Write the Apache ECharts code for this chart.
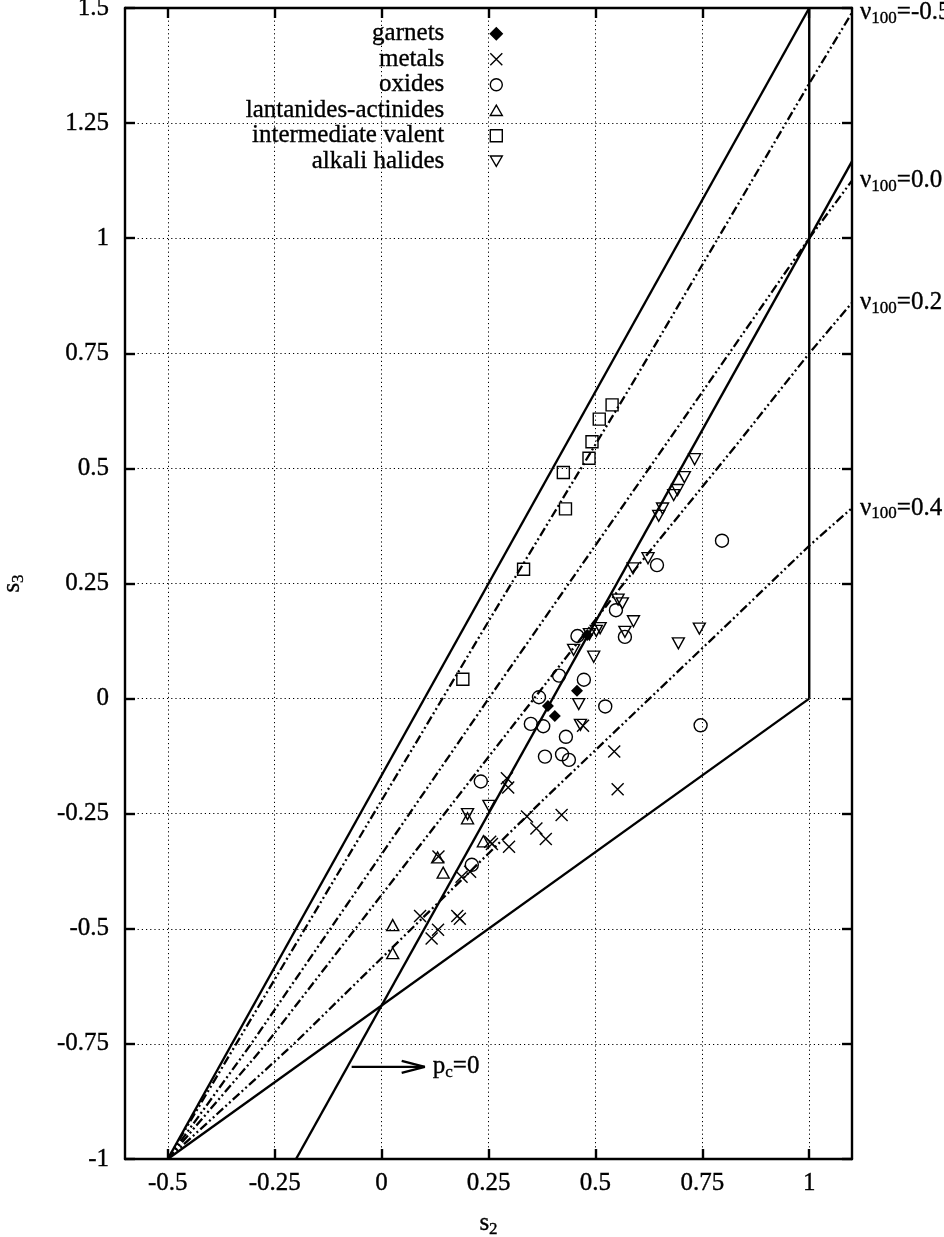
<!DOCTYPE html>
<html>
<head>
<meta charset="utf-8">
<title>s2 - s3</title>
<script src="https://cdn.jsdelivr.net/npm/echarts@6.0.0/dist/echarts.min.js"></script>
<style>
  html, body { margin: 0; padding: 0; background: #fff; }
  #chart { width: 944px; height: 1237px; }
</style>
</head>
<body>
<div id="chart"></div>
<script>
const FONT = 'Liberation Serif';

// axis ticks
const xTicks = [-0.5, -0.25, 0, 0.25, 0.5, 0.75, 1];
const yTicks = [-1, -0.75, -0.5, -0.25, 0, 0.25, 0.5, 0.75, 1, 1.25, 1.5];

// measured points [s2, s3]
const garnets = [[0.389, -0.016], [0.405, -0.038], [0.457, 0.017], [0.481, 0.138]];
const metals = [
  [0.471, -0.059], [0.544, -0.115], [0.552, -0.197], [0.293, -0.173], [0.296, -0.193],
  [0.421, -0.253], [0.340, -0.256], [0.362, -0.282], [0.384, -0.305], [0.298, -0.322],
  [0.254, -0.311], [0.258, -0.316], [0.133, -0.343], [0.207, -0.376], [0.187, -0.387],
  [0.090, -0.472], [0.177, -0.472], [0.183, -0.478], [0.132, -0.502], [0.117, -0.521]
];
const oxides = [
  [0.796, 0.343], [0.644, 0.290], [0.548, 0.192], [0.458, 0.136], [0.569, 0.134],
  [0.415, 0.050], [0.473, 0.041], [0.368, 0.003], [0.523, -0.017], [0.349, -0.055],
  [0.378, -0.060], [0.431, -0.083], [0.746, -0.058], [0.382, -0.126], [0.422, -0.121],
  [0.438, -0.133], [0.232, -0.180], [0.211, -0.361]
];
const lanthanides = [
  [0.201, -0.260], [0.238, -0.310], [0.131, -0.345], [0.144, -0.378], [0.026, -0.492], [0.026, -0.553]
];
const intermediate = [
  [0.539, 0.638], [0.509, 0.607], [0.492, 0.558], [0.485, 0.522],
  [0.425, 0.491], [0.430, 0.412], [0.332, 0.281], [0.190, 0.042]
];
const alkali = [
  [0.732, 0.520], [0.708, 0.481], [0.692, 0.453], [0.683, 0.442], [0.657, 0.413],
  [0.648, 0.397], [0.623, 0.305], [0.588, 0.283], [0.563, 0.207], [0.553, 0.215],
  [0.589, 0.168], [0.694, 0.120], [0.743, 0.152], [0.511, 0.153], [0.502, 0.147],
  [0.486, 0.140], [0.569, 0.145], [0.449, 0.106], [0.496, 0.091], [0.461, -0.012],
  [0.465, -0.057], [0.201, -0.251], [0.251, -0.233]
];

// boundary lines
const upperBound = [[-0.5, -1], [1.0, 1.5]];
const pcZeroLine = [[-0.2, -1], [1.1, 1.167]];
const lowerBound = [[-0.5, -1], [1.0, 0.0]];
const rightBound = [[1.0, 0.0], [1.0, 1.5]];

// nu100 curves
const nuLabels = ['-0.5', '0.0', '0.2', '0.4'];
const nuM05 = [[-0.5, -1], [-0.34, -0.75], [0.254, 0.174], [0.59, 0.69], [1.0, 1.336], [1.1, 1.49]];
const nu00 = [[-0.5, -1], [-0.305, -0.75], [0.254, 0.005], [0.768, 0.69], [1.0, 1.0], [1.1, 1.125]];
const nu02 = [[-0.5, -1], [-0.27, -0.75], [0.254, -0.122], [0.573, 0.258], [0.835, 0.557], [1.0, 0.75], [1.1, 0.86]];
const nu04 = [[-0.5, -1], [-0.205, -0.75], [0.378, -0.22], [0.815, 0.167], [1.0, 0.332], [1.1, 0.414]];

// p_c = 0 arrow
const arrowShaft = [[-0.07, -0.80], [0.101, -0.80]];
const arrowHead = [[0.047, -0.787], [0.101, -0.80], [0.047, -0.813]];

const SYM_X = 'path://M0,0L10,10M0,10L10,0';
const SYM_DOWN = 'path://M0,0L10,0L5,8.66Z';
const SYM_UP = 'path://M5,0L10,8.66L0,8.66Z';

// a thin outline makes the serif text closer to the heavy original raster
const heavy = { textBorderColor: '#000', textBorderWidth: 0.35 };

const subRich = {
  t: Object.assign({ fontFamily: FONT, fontSize: 25, color: '#000' }, heavy),
  sub: Object.assign({ fontFamily: FONT, fontSize: 17, color: '#000', padding: [12, 0, 0, 0] }, heavy)
};

function pointSeries(name, data, symbol, size, filled) {
  return {
    name: name,
    type: 'scatter',
    data: data,
    symbol: symbol,
    symbolSize: size,
    itemStyle: {
      color: filled ? '#000' : 'rgba(0,0,0,0)',
      borderColor: '#000',
      borderWidth: filled ? 0 : 1.4,
      opacity: 1
    },
    emphasis: { disabled: true },
    z: 5
  };
}

function solidLine(data) {
  return {
    type: 'line',
    data: data,
    showSymbol: false,
    symbol: 'none',
    lineStyle: { color: '#000', width: 2.4 },
    emphasis: { disabled: true },
    z: 3
  };
}

function nuCurve(data, label) {
  return {
    type: 'line',
    data: data,
    showSymbol: false,
    symbol: 'none',
    lineStyle: { color: '#000', width: 2.3, type: [9, 3, 2, 3, 2, 3] },
    endLabel: {
      show: true,
      distance: 8,
      formatter: '{t|ν}{sub|100}{t|=' + label + '}',
      rich: subRich
    },
    emphasis: { disabled: true },
    z: 3
  };
}

function valueAxis(isX, pos, showLabels) {
  const ax = {
    type: 'value',
    position: pos,
    min: isX ? -0.6 : -1,
    max: isX ? 1.1 : 1.5,
    axisLine: { show: true, onZero: false, lineStyle: { color: '#000', width: 2.4 } },
    axisTick: { show: true, inside: true, length: 10, lineStyle: { color: '#000', width: 2.4 } },
    axisLabel: Object.assign({
      show: showLabels,
      color: '#000',
      fontFamily: FONT,
      fontSize: 25,
      margin: isX ? 12 : 16
    }, heavy),
    splitLine: {
      show: showLabels,
      lineStyle: { color: '#000', width: 1, type: [1.2, 3] }
    }
  };
  ax.axisTick.customValues = isX ? xTicks : yTicks;
  ax.axisLabel.customValues = isX ? xTicks : yTicks;
  if (showLabels) {
    ax.name = isX ? '{t|s}{sub|2}' : '{t|s}{sub|3}';
    ax.nameLocation = 'middle';
    ax.nameGap = isX ? 50 : 98;
    ax.nameTextStyle = { rich: subRich };
  }
  return ax;
}

const chart = echarts.init(document.getElementById('chart'), null, { renderer: 'canvas' });

chart.setOption({
  animation: false,
  backgroundColor: '#fff',
  textStyle: { fontFamily: FONT },
  grid: { left: 125, right: 92, top: 8, bottom: 78, containLabel: false, outerBoundsMode: 'none' },
  xAxis: [valueAxis(true, 'bottom', true), valueAxis(true, 'top', false)],
  yAxis: [valueAxis(false, 'left', true), valueAxis(false, 'right', false)],
  legend: {
    orient: 'vertical',
    align: 'right',
    right: 441,
    top: 21,
    padding: 0,
    itemGap: 0,
    itemWidth: 12,
    itemHeight: 12,
    selectedMode: false,
    itemStyle: { borderWidth: 1.4 },
    textStyle: Object.assign({
      fontFamily: FONT,
      fontSize: 25,
      color: '#000',
      lineHeight: 25.5,
      padding: [0, 41, 0, 0]
    }, heavy),
    data: ['garnets', 'metals', 'oxides', 'lantanides-actinides', 'intermediate valent', 'alkali halides']
  },
  series: [
    solidLine(upperBound),
    solidLine(pcZeroLine),
    solidLine(lowerBound),
    solidLine(rightBound),
    nuCurve(nuM05, nuLabels[0]),
    nuCurve(nu00, nuLabels[1]),
    nuCurve(nu02, nuLabels[2]),
    nuCurve(nu04, nuLabels[3]),
    Object.assign(solidLine(arrowShaft), {
      endLabel: { show: true, distance: 8, formatter: '{t|p}{sub|c}{t|=0}', rich: subRich }
    }),
    solidLine(arrowHead),
    pointSeries('garnets', garnets, 'diamond', 12, true),
    pointSeries('metals', metals, SYM_X, 12, false),
    pointSeries('oxides', oxides, 'circle', 13, false),
    pointSeries('lantanides-actinides', lanthanides, SYM_UP, [12, 11], false),
    pointSeries('intermediate valent', intermediate, 'rect', 12, false),
    pointSeries('alkali halides', alkali, SYM_DOWN, [12, 11], false)
  ]
});
</script>
</body>
</html>
